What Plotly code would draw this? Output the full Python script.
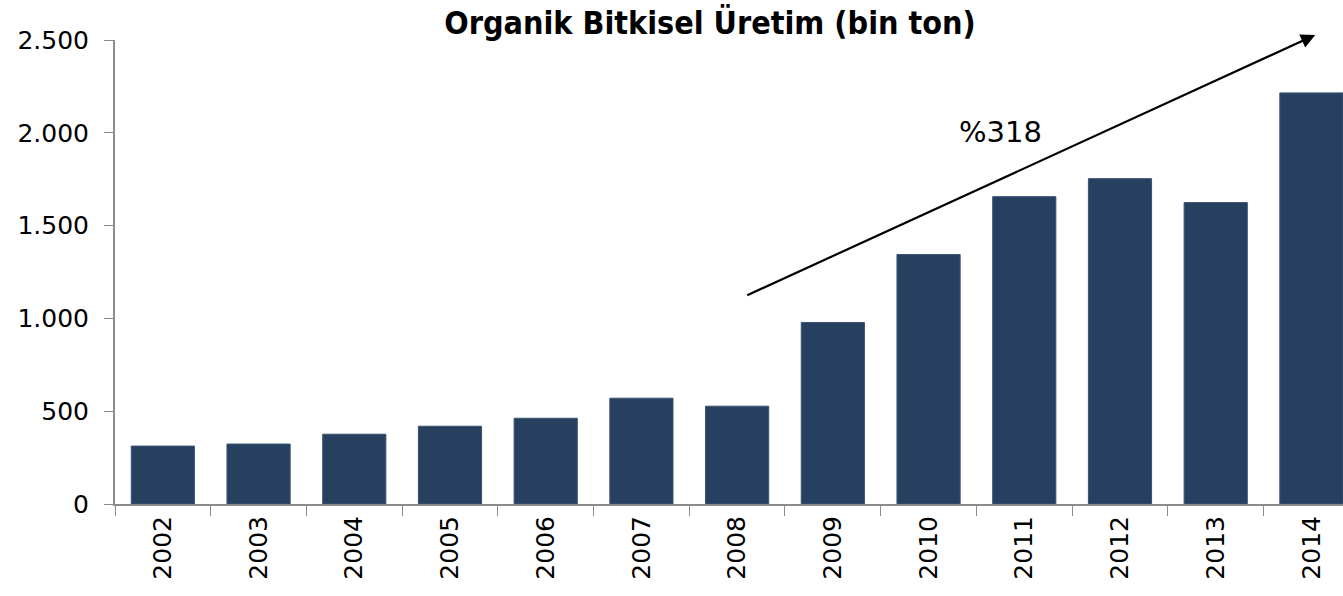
import plotly.graph_objects as go

years = ["2002", "2003", "2004", "2005", "2006", "2007", "2008",
         "2009", "2010", "2011", "2012", "2013", "2014"]
production = [312, 323, 376, 419, 462, 570, 527, 978, 1344, 1656, 1753, 1624, 2215]
title_text = "Organik Bitkisel Üretim (bin ton)"
growth_label = "%318"

fig = go.Figure()
fig.add_trace(go.Bar(
    x=years, y=production,
    marker=dict(color="#27405f", line=dict(color="#3a5273", width=1)),
    width=0.66,
))

fig.add_annotation(
    x=12.04, y=2527, ax=6.09, ay=1121,
    xref="x", yref="y", axref="x", ayref="y",
    showarrow=True, arrowhead=2, arrowsize=1.3, arrowwidth=2.2,
    arrowcolor="#000000", text="",
)
fig.add_annotation(
    x=8.75, y=2004, xref="x", yref="y", text=growth_label,
    showarrow=False, font=dict(size=29, color="#000000", family="DejaVu Sans"),
)

fig.update_layout(
    width=1343, height=596,
    margin=dict(l=115, r=0, t=40, b=92),
    paper_bgcolor="white", plot_bgcolor="white",
    separators=",.",
    showlegend=False,
    title=dict(text="<b>" + title_text + "</b>",
               x=710 / 1343, xref="container", xanchor="center",
               y=1 - 23 / 596, yref="container", yanchor="middle",
               font=dict(size=32, color="#000000", family="DejaVu Sans Condensed")),
    font=dict(family="DejaVu Sans", size=25, color="#000000"),
    bargap=0.34,
)

fig.update_xaxes(
    type="category", range=[-0.5, 12.33],
    tickangle=-90, ticks="outside", tickson="boundaries", ticklen=10,
    tickcolor="#8c8c8c", showline=True, linecolor="#8c8c8c", linewidth=2,
    showgrid=False, tickfont=dict(size=25),
)
fig.update_yaxes(
    range=[0, 2500], dtick=500, tickformat=",d",
    ticks="outside", ticklen=9, tickcolor="#8c8c8c",
    showline=True, linecolor="#8c8c8c", linewidth=2,
    showgrid=False, zeroline=False, tickfont=dict(size=25),
    ticklabelstandoff=10,
)

fig.write_html("out.html", config={"displayModeBar": False},
               post_script="document.body.style.margin='0';")
